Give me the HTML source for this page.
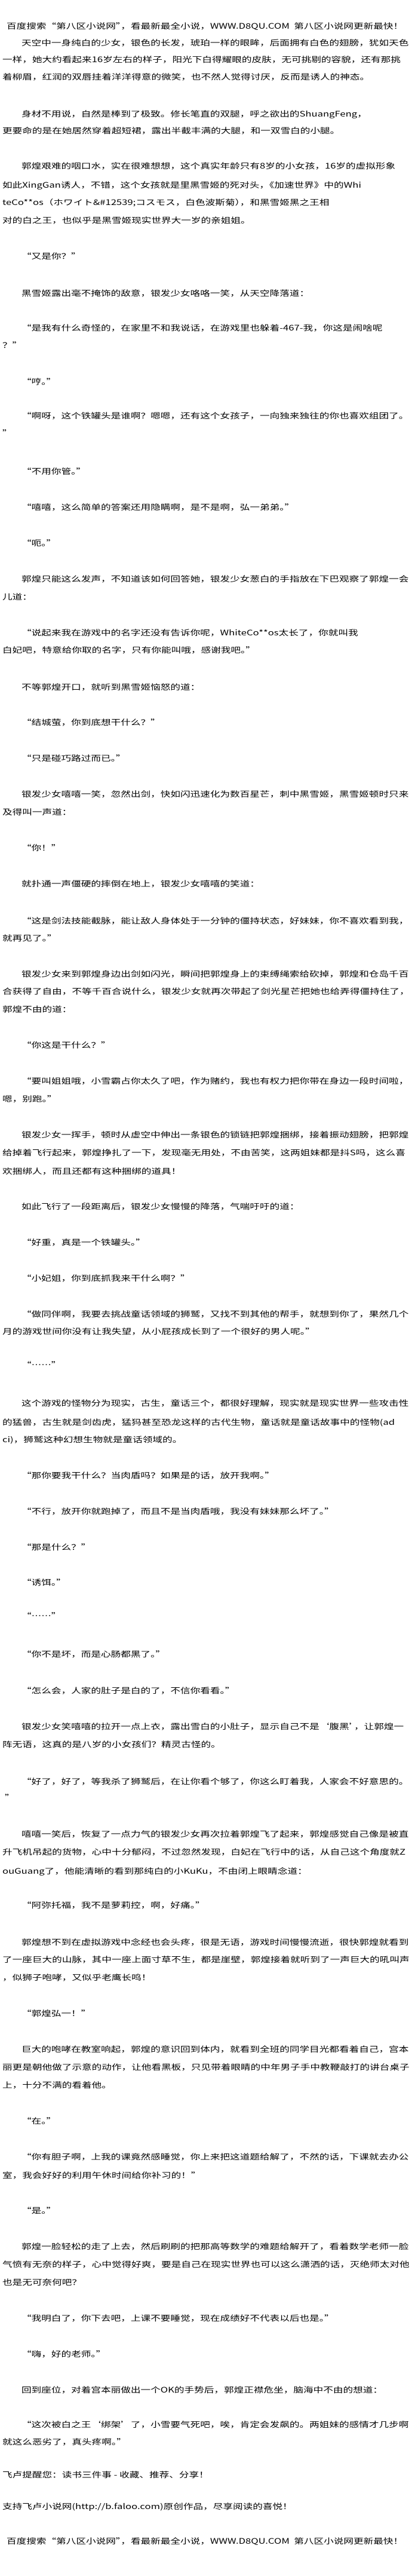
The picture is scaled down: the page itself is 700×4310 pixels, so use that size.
<!DOCTYPE html>
<html><head><meta charset="utf-8">
<style>
html,body{margin:0;padding:0;background:#fff;}
body{width:700px;height:4310px;position:relative;overflow:hidden;font-family:"Noto Sans CJK SC","WenQuanYi Zen Hei",sans-serif;color:#000;}
.l{position:absolute;white-space:nowrap;font-size:12.5px;line-height:20px;height:20px;transform:scaleX(1.33);transform-origin:0 50%;}
</style></head><body>
<div class="l" style="top:33px;left:11px">百度搜索“第八区小说网”，看最新最全小说，WWW.D8QU.COM&nbsp;&nbsp;第八区小说网更新最快！</div>
<div class="l" style="top:61px;left:36px">天空中一身纯白的少女，银色的长发，琥珀一样的眼眸，后面拥有白色的翅膀，犹如天色</div>
<div class="l" style="top:89px;left:4px">一样，她大约看起来16岁左右的样子，阳光下白得耀眼的皮肤，无可挑剔的容貌，还有那挑</div>
<div class="l" style="top:118px;left:4px">着柳眉，红润的双唇挂着洋洋得意的微笑，也不然人觉得讨厌，反而是诱人的神态。</div>
<div class="l" style="top:180px;left:36px">身材不用说，自然是棒到了极致。修长笔直的双腿，呼之欲出的ShuangFeng，</div>
<div class="l" style="top:208px;left:4px">更要命的是在她居然穿着超短裙，露出半截丰满的大腿，和一双雪白的小腿。</div>
<div class="l" style="top:267px;left:36px">郭煌艰难的咽口水，实在很难想想，这个真实年龄只有8岁的小女孩，16岁的虚拟形象</div>
<div class="l" style="top:299px;left:4px">如此XingGan诱人，不错，这个女孩就是里黑雪姬的死对头，《加速世界》中的Whi</div>
<div class="l" style="top:328px;left:4px">teCo**os（ホワイト&amp;#12539;コスモス，白色波斯菊），和黑雪姬黑之王相</div>
<div class="l" style="top:358px;left:4px">对的白之王，也似乎是黑雪姬现实世界大一岁的亲姐姐。</div>
<div class="l" style="top:418px;left:36px">“又是你？”</div>
<div class="l" style="top:480px;left:36px">黑雪姬露出毫不掩饰的敌意，银发少女咯咯一笑，从天空降落道：</div>
<div class="l" style="top:538px;left:36px">“是我有什么奇怪的，在家里不和我说话，在游戏里也躲着-467-我，你这是闹啥呢</div>
<div class="l" style="top:567px;left:4px">？”</div>
<div class="l" style="top:628px;left:36px">“哼。”</div>
<div class="l" style="top:685px;left:36px">“啊呀，这个铁罐头是谁啊？嗯嗯，还有这个女孩子，一向独来独往的你也喜欢组团了。</div>
<div class="l" style="top:714px;left:4px">”</div>
<div class="l" style="top:778px;left:36px">“不用你管。”</div>
<div class="l" style="top:838px;left:36px">“嘻嘻，这么简单的答案还用隐瞒啊，是不是啊，弘一弟弟。”</div>
<div class="l" style="top:898px;left:36px">“呃。”</div>
<div class="l" style="top:958px;left:36px">郭煌只能这么发声，不知道该如何回答她，银发少女葱白的手指放在下巴观察了郭煌一会</div>
<div class="l" style="top:988px;left:4px">儿道：</div>
<div class="l" style="top:1048px;left:36px">“说起来我在游戏中的名字还没有告诉你呢，WhiteCo**os太长了，你就叫我</div>
<div class="l" style="top:1077px;left:4px">白妃吧，特意给你取的名字，只有你能叫哦，感谢我吧。”</div>
<div class="l" style="top:1139px;left:36px">不等郭煌开口，就听到黑雪姬恼怒的道：</div>
<div class="l" style="top:1198px;left:36px">“结城萤，你到底想干什么？”</div>
<div class="l" style="top:1258px;left:36px">“只是碰巧路过而已。”</div>
<div class="l" style="top:1318px;left:36px">银发少女嘻嘻一笑，忽然出剑，快如闪迅速化为数百星芒，刺中黑雪姬，黑雪姬顿时只来</div>
<div class="l" style="top:1348px;left:4px">及得叫一声道：</div>
<div class="l" style="top:1408px;left:36px">“你！”</div>
<div class="l" style="top:1468px;left:36px">就扑通一声僵硬的摔倒在地上，银发少女嘻嘻的笑道：</div>
<div class="l" style="top:1530px;left:36px">“这是剑法技能截脉，能让敌人身体处于一分钟的僵持状态，好妹妹，你不喜欢看到我，</div>
<div class="l" style="top:1559px;left:4px">就再见了。”</div>
<div class="l" style="top:1619px;left:36px">银发少女来到郭煌身边出剑如闪光，瞬间把郭煌身上的束缚绳索给砍掉，郭煌和仓岛千百</div>
<div class="l" style="top:1648px;left:4px">合获得了自由，不等千百合说什么，银发少女就再次带起了剑光星芒把她也给弄得僵持住了，</div>
<div class="l" style="top:1678px;left:4px">郭煌不由的道：</div>
<div class="l" style="top:1738px;left:36px">“你这是干什么？”</div>
<div class="l" style="top:1798px;left:36px">“要叫姐姐哦，小雪霸占你太久了吧，作为赌约，我也有权力把你带在身边一段时间啦，</div>
<div class="l" style="top:1828px;left:4px">嗯，别跑。”</div>
<div class="l" style="top:1888px;left:36px">银发少女一挥手，顿时从虚空中伸出一条银色的锁链把郭煌捆绑，接着振动翅膀，把郭煌</div>
<div class="l" style="top:1918px;left:4px">给掉着飞行起来，郭煌挣扎了一下，发现毫无用处，不由苦笑，这两姐妹都是抖S吗，这么喜</div>
<div class="l" style="top:1949px;left:4px">欢捆绑人，而且还都有这种捆绑的道具！</div>
<div class="l" style="top:2008px;left:36px">如此飞行了一段距离后，银发少女慢慢的降落，气喘吁吁的道：</div>
<div class="l" style="top:2068px;left:36px">“好重，真是一个铁罐头。”</div>
<div class="l" style="top:2128px;left:36px">“小妃姐，你到底抓我来干什么啊？”</div>
<div class="l" style="top:2188px;left:36px">“做同伴啊，我要去挑战童话领域的狮鹫，又找不到其他的帮手，就想到你了，果然几个</div>
<div class="l" style="top:2217px;left:4px">月的游戏世间你没有让我失望，从小屁孩成长到了一个很好的男人呢。”</div>
<div class="l" style="top:2273px;left:36px">“……”</div>
<div class="l" style="top:2337px;left:36px">这个游戏的怪物分为现实，古生，童话三个，都很好理解，现实就是现实世界一些攻击性</div>
<div class="l" style="top:2369px;left:4px">的猛兽，古生就是剑齿虎，猛犸甚至恐龙这样的古代生物，童话就是童话故事中的怪物(ad</div>
<div class="l" style="top:2398px;left:4px">ci)，狮鹫这种幻想生物就是童话领域的。</div>
<div class="l" style="top:2458px;left:36px">“那你要我干什么？当肉盾吗？如果是的话，放开我啊。”</div>
<div class="l" style="top:2518px;left:36px">“不行，放开你就跑掉了，而且不是当肉盾哦，我没有妹妹那么坏了。”</div>
<div class="l" style="top:2578px;left:36px">“那是什么？”</div>
<div class="l" style="top:2637px;left:36px">“诱饵。”</div>
<div class="l" style="top:2693px;left:36px">“……”</div>
<div class="l" style="top:2757px;left:36px">“你不是坏，而是心肠都黑了。”</div>
<div class="l" style="top:2818px;left:36px">“怎么会，人家的肚子是白的了，不信你看看。”</div>
<div class="l" style="top:2878px;left:36px">银发少女笑嘻嘻的拉开一点上衣，露出雪白的小肚子，显示自己不是‘腹黑’，让郭煌一</div>
<div class="l" style="top:2908px;left:4px">阵无语，这真的是八岁的小女孩们？精灵古怪的。</div>
<div class="l" style="top:2970px;left:36px">“好了，好了，等我杀了狮鹫后，在让你看个够了，你这么盯着我，人家会不好意思的。</div>
<div class="l" style="top:2997px;left:8px">”</div>
<div class="l" style="top:3058px;left:36px">嘻嘻一笑后，恢复了一点力气的银发少女再次拉着郭煌飞了起来，郭煌感觉自己像是被直</div>
<div class="l" style="top:3088px;left:4px">升飞机吊起的货物，心中十分郁闷，不过忽然发现，白妃在飞行中的话，从自己这个角度就Z</div>
<div class="l" style="top:3120px;left:4px">ouGuang了，他能清晰的看到那纯白的小KuKu，不由闭上眼睛念道：</div>
<div class="l" style="top:3177px;left:36px">“阿弥托福，我不是萝莉控，啊，好痛。”</div>
<div class="l" style="top:3239px;left:36px">郭煌想不到在虚拟游戏中念经也会头疼，很是无语，游戏时间慢慢流逝，很快郭煌就看到</div>
<div class="l" style="top:3268px;left:4px">了一座巨大的山脉，其中一座上面寸草不生，都是崖壁，郭煌接着就听到了一声巨大的吼叫声</div>
<div class="l" style="top:3298px;left:4px">，似狮子咆哮，又似乎老鹰长鸣！</div>
<div class="l" style="top:3358px;left:36px">“郭煌弘一！”</div>
<div class="l" style="top:3418px;left:36px">巨大的咆哮在教室响起，郭煌的意识回到体内，就看到全班的同学目光都看着自己，宫本</div>
<div class="l" style="top:3448px;left:4px">丽更是朝他做了示意的动作，让他看黑板，只见带着眼睛的中年男子手中教鞭敲打的讲台桌子</div>
<div class="l" style="top:3478px;left:4px">上，十分不满的看着他。</div>
<div class="l" style="top:3538px;left:36px">“在。”</div>
<div class="l" style="top:3598px;left:36px">“你有胆子啊，上我的课竟然感睡觉，你上来把这道题给解了，不然的话，下课就去办公</div>
<div class="l" style="top:3629px;left:4px">室，我会好好的利用午休时间给你补习的！”</div>
<div class="l" style="top:3688px;left:36px">“是。”</div>
<div class="l" style="top:3748px;left:36px">郭煌一脸轻松的走了上去，然后刷刷的把那高等数学的难题给解开了，看着数学老师一脸</div>
<div class="l" style="top:3778px;left:4px">气愤有无奈的样子，心中觉得好爽，要是自己在现实世界也可以这么潇洒的话，灭绝师太对他</div>
<div class="l" style="top:3808px;left:4px">也是无可奈何吧？</div>
<div class="l" style="top:3868px;left:36px">“我明白了，你下去吧，上课不要睡觉，现在成绩好不代表以后也是。”</div>
<div class="l" style="top:3928px;left:36px">“嗨，好的老师。”</div>
<div class="l" style="top:3988px;left:36px">回到座位，对着宫本丽做出一个OK的手势后，郭煌正襟危坐，脑海中不由的想道：</div>
<div class="l" style="top:4046px;left:36px">“这次被白之王‘绑架’了，小雪要气死吧，唉，肯定会发飙的。两姐妹的感情才几步啊</div>
<div class="l" style="top:4075px;left:4px">就这么恶劣了，真头疼啊。”</div>
<div class="l" style="top:4130px;left:4px">飞卢提醒您：读书三件事 - 收藏、推荐、分享！</div>
<div class="l" style="top:4183px;left:4px">支持飞卢小说网(http://b.faloo.com)原创作品，尽享阅读的喜悦！</div>
<div class="l" style="top:4241px;left:11px">百度搜索“第八区小说网”，看最新最全小说，WWW.D8QU.COM&nbsp;&nbsp;第八区小说网更新最快！</div>
</body></html>
